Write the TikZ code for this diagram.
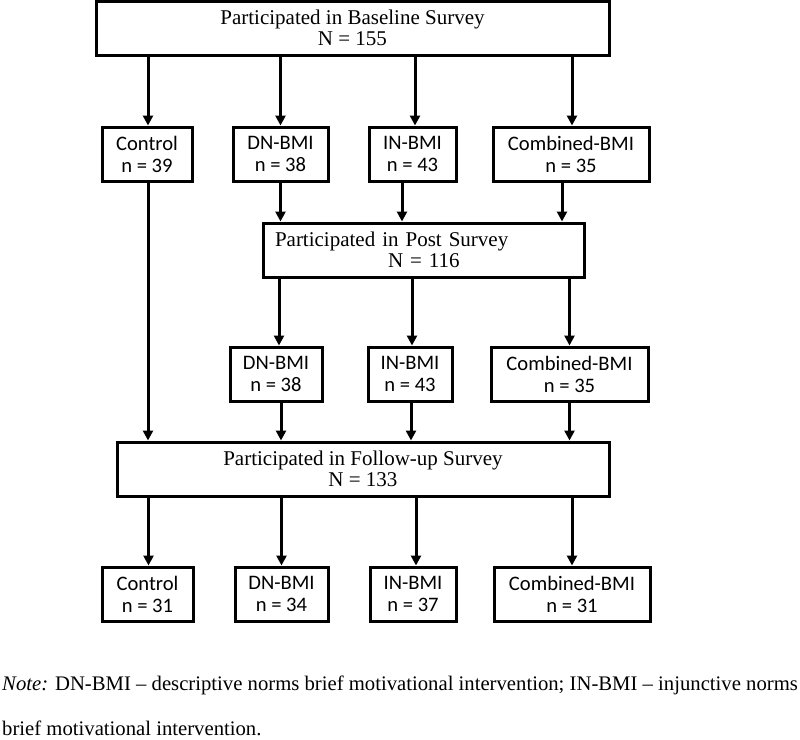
\documentclass[tikz,border=0pt]{standalone}
\usepackage{fontspec}
\setmainfont{Liberation Serif}
\newfontfamily\boxfont{Carlito}
\usetikzlibrary{arrows.meta}
\begin{document}
\begin{tikzpicture}[x=1pt,y=-1pt,
  every node/.style={inner sep=0pt},
  survey/.style={draw, line width=3pt, font=\fontsize{21}{21.5}\selectfont, align=center, minimum height=54pt},
  grp/.style={draw, line width=3pt, font=\boxfont\fontsize{20.6}{22}\selectfont, align=center, minimum height=54pt},
  arr/.style={line width=3pt, -{Triangle[length=10pt,width=10pt]}},
  notefont/.style={font=\fontsize{20.7}{21}\selectfont}]
\useasboundingbox (0,0) rectangle (800,739);
% baseline
\node[survey, minimum width=513pt] (base) at (352.5,28) {Participated in Baseline Survey\\N = 155};
% row 1
\node[grp, minimum width=90pt] (c1) at (147,154) {Control\\n = 39};
\node[grp, minimum width=95pt] (d1) at (280.5,154) {DN-BMI\\n = 38};
\node[grp, minimum width=87pt] (i1) at (412.5,154) {IN-BMI\\n = 43};
\node[grp, minimum width=156pt] (m1) at (571,154) {Combined-BMI\\n = 35};
% post
\node[survey, minimum width=321pt, text width=297pt, align=left] (post) at (423.5,250) {Participated in Post Survey\\\hspace*{113pt}N = 116};
% row 2
\node[grp, minimum width=92pt] (d2) at (276,374) {DN-BMI\\n = 38};
\node[grp, minimum width=84pt] (i2) at (410,374) {IN-BMI\\n = 43};
\node[grp, minimum width=157pt] (m2) at (569.5,374) {Combined-BMI\\n = 35};
% follow-up
\node[survey, minimum width=492pt] (fol) at (363,469) {Participated in Follow-up Survey\\N = 133};
% row 3
\node[grp, minimum width=91pt] (c3) at (147.5,594) {Control\\n = 31};
\node[grp, minimum width=93pt] (d3) at (281.5,594) {DN-BMI\\n = 34};
\node[grp, minimum width=86pt] (i3) at (413,594) {IN-BMI\\n = 37};
\node[grp, minimum width=156pt] (m3) at (572,594) {Combined-BMI\\n = 31};
% note
\node[notefont, anchor=west] (note1) at (2,685) {\textit{Note:} DN-BMI – descriptive norms brief motivational intervention; IN-BMI – injunctive norms};
\node[notefont, anchor=west] (note2) at (2,728) {brief motivational intervention.};
% arrows baseline -> row 1
\draw[arr] ([xshift=1pt]base.south -| c1.north) -- ([xshift=1pt]c1.north);
\draw[arr] (base.south -| d1.north) -- (d1.north);
\draw[arr] ([xshift=2.5pt]base.south -| i1.north) -- ([xshift=2.5pt]i1.north);
\draw[arr] ([xshift=1pt]base.south -| m1.north) -- ([xshift=1pt]m1.north);
% row 1 -> post
\draw[arr] (d1.south) -- (d1.south |- post.north);
\draw[arr] ([xshift=-10.5pt]i1.south) -- ([xshift=-10.5pt]i1.south |- post.north);
\draw[arr] ([xshift=-9pt]m1.south) -- ([xshift=-9pt]m1.south |- post.north);
% control -> follow-up
\draw[arr] ([xshift=1pt]c1.south) -- ([xshift=1pt]c1.south |- fol.north);
% post -> row 2
\draw[arr] ([xshift=3pt]post.south -| d2.north) -- ([xshift=3pt]d2.north);
\draw[arr] ([xshift=2pt]post.south -| i2.north) -- ([xshift=2pt]i2.north);
\draw[arr] (post.south -| m2.north) -- (m2.north);
% row 2 -> follow-up
\draw[arr] ([xshift=5pt]d2.south) -- ([xshift=5pt]d2.south |- fol.north);
\draw[arr] ([xshift=1pt]i2.south) -- ([xshift=1pt]i2.south |- fol.north);
\draw[arr] (m2.south) -- (m2.south |- fol.north);
% follow-up -> row 3
\draw[arr] ([xshift=1pt]fol.south -| c3.north) -- ([xshift=1pt]c3.north);
\draw[arr] (fol.south -| d3.north) -- (d3.north);
\draw[arr] ([xshift=3pt]fol.south -| i3.north) -- ([xshift=3pt]i3.north);
\draw[arr] (fol.south -| m3.north) -- (m3.north);
\end{tikzpicture}
\end{document}
